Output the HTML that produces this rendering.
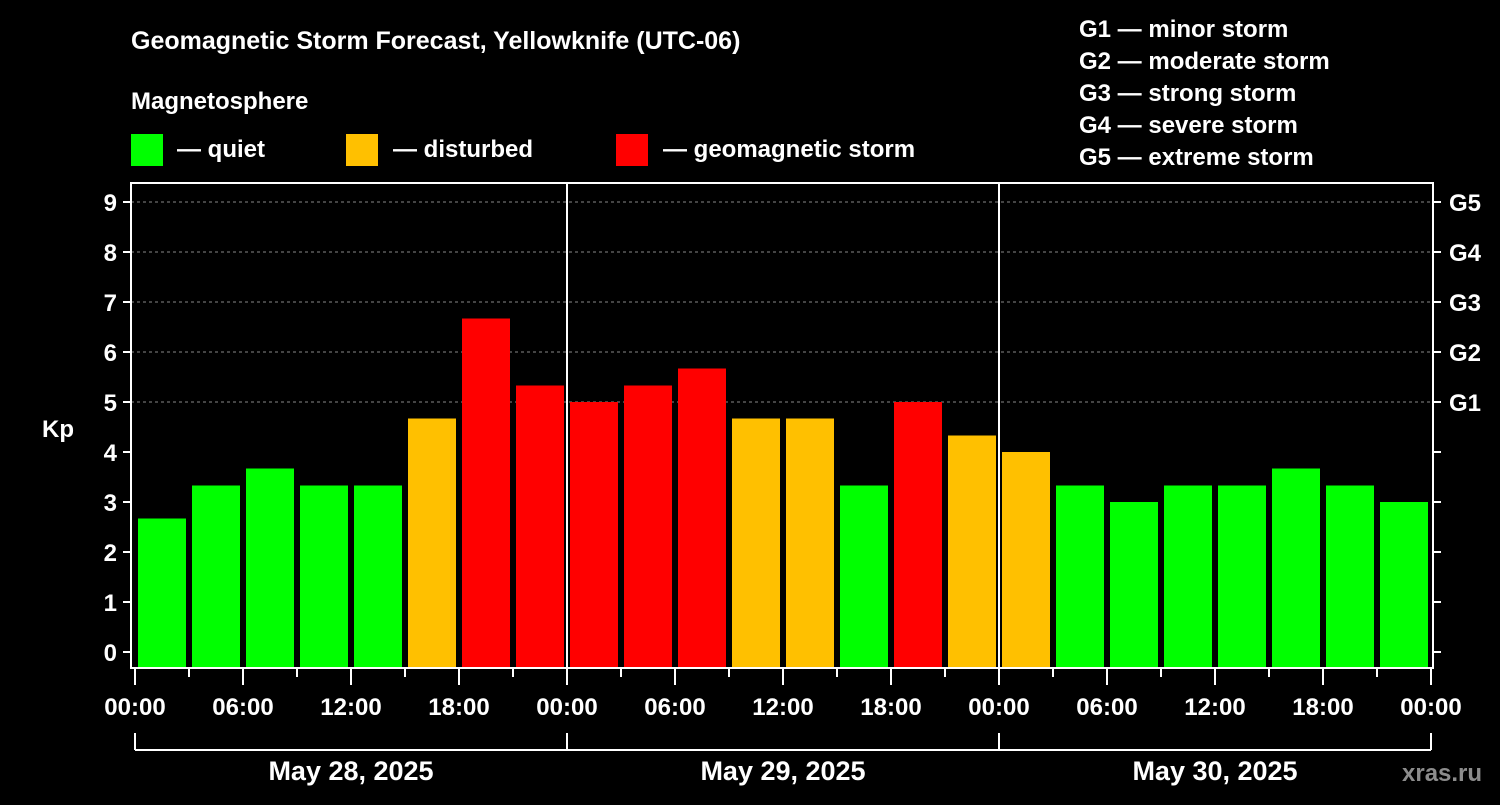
<!DOCTYPE html>
<html><head><meta charset="utf-8"><style>
body{margin:0;background:#000;width:1500px;height:800px;overflow:hidden}
svg text{font-family:"Liberation Sans",Arial,sans-serif;font-weight:bold;fill:#fff}
</style></head><body>
<svg id="c" width="1500" height="800">
<text x="131" y="49" font-size="25">Geomagnetic Storm Forecast, Yellowknife (UTC-06)</text>
<text x="131" y="109" font-size="24">Magnetosphere</text>
<g><rect x="131" y="134" width="32" height="32" fill="#00ff00"/><text x="177" y="157" font-size="24">— quiet</text></g>
<g><rect x="346" y="134" width="32" height="32" fill="#ffc000"/><text x="393" y="157" font-size="24">— disturbed</text></g>
<g><rect x="616" y="134" width="32" height="32" fill="#ff0000"/><text x="663" y="157" font-size="24">— geomagnetic storm</text></g>
<g font-size="24">
<text x="1079" y="37">G1 — minor storm</text><text x="1079" y="69">G2 — moderate storm</text><text x="1079" y="101">G3 — strong storm</text><text x="1079" y="133">G4 — severe storm</text><text x="1079" y="165">G5 — extreme storm</text></g>
<text x="1402" y="781" font-size="24" fill="#888" style="fill:#8c8c8c">xras.ru</text>
<g id="plot"></g>
</svg>
<script>
const kpValues=[2.67,3.33,3.67,3.33,3.33,4.67,6.67,5.33,5.0,5.33,5.67,4.67,4.67,3.33,5.0,4.33,4.0,3.33,3.0,3.33,3.33,3.67,3.33,3.0];
const dayLabels=["May 28, 2025","May 29, 2025","May 30, 2025"];
const hourLabels=["00:00","06:00","12:00","18:00"];
const gLabels=["G1","G2","G3","G4","G5"];
const yTicks=[0,1,2,3,4,5,6,7,8,9];
const NS="http://www.w3.org/2000/svg";
const g=document.getElementById('plot');
const X0=135,PX_H=18,Y0=652,PX_K=50,TOP=183,BOT=668,L=131,R=1433;
const xs=h=>X0+h*PX_H, ys=k=>Y0-k*PX_K;
function mk(t,a,txt){const e=document.createElementNS(NS,t);for(const k in a)e.setAttribute(k,a[k]);if(txt!=null)e.textContent=txt;g.appendChild(e);return e;}
// grid
[5,6,7,8,9].forEach(k=>{const e=mk('line',{x1:L,x2:R,y1:ys(k),y2:ys(k),stroke:'#888','stroke-dasharray':'3,3','stroke-width':1});

});
// bars
kpValues.forEach((v,i)=>{const c=v>=5?'#ff0000':(v>=4?'#ffc000':'#00ff00');
const e=mk('rect',{x:xs(i*3)+3,y:ys(v),width:48,height:BOT-ys(v),fill:c});

});
// day separators
[1,2].forEach(d=>{const e=mk('line',{x1:xs(d*24),x2:xs(d*24),y1:TOP,y2:BOT,stroke:'#fff','stroke-width':2});

});
// frame
const f=mk('rect',{x:L,y:TOP,width:R-L,height:BOT-TOP,fill:'none',stroke:'#fff','stroke-width':2});


// y ticks
yTicks.forEach(k=>{mk('line',{x1:L-8,x2:L,y1:ys(k),y2:ys(k),stroke:'#fff','stroke-width':2});
mk('line',{x1:R,x2:R+8,y1:ys(k),y2:ys(k),stroke:'#fff','stroke-width':2});
const t=mk('text',{x:L-14,y:ys(k)+9,'font-size':24,'text-anchor':'end'},String(k));

});
gLabels.forEach((s,i)=>{const t=mk('text',{x:1449,y:ys(5+i)+9,'font-size':24},s);

});
const yt=mk('text',{x:42,y:437,'font-size':24},'Kp');


// x ticks
for(let h=0;h<=72;h+=3){const major=h%6==0;mk('line',{x1:xs(h),x2:xs(h),y1:BOT,y2:BOT+(major?17:9),stroke:'#fff','stroke-width':2});
if(major){const t=mk('text',{x:xs(h),y:715,'font-size':24,'text-anchor':'middle'},hourLabels[(h%24)/6]);

}}
// day brackets
mk('line',{x1:xs(0),x2:xs(72),y1:750,y2:750,stroke:'#fff','stroke-width':2});
[0,24,48,72].forEach(h=>mk('line',{x1:xs(h),x2:xs(h),y1:733,y2:750,stroke:'#fff','stroke-width':2}));
dayLabels.forEach((s,i)=>{const t=mk('text',{x:xs(i*24+12),y:780,'font-size':27,'text-anchor':'middle'},s);

});
</script>
</body></html>
